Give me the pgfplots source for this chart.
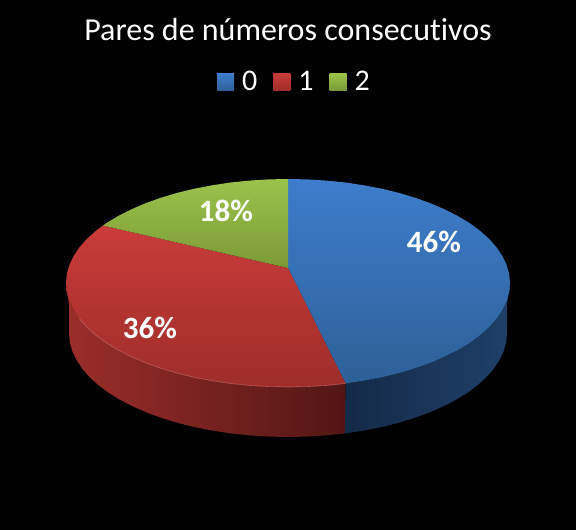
\documentclass[border=0pt]{standalone}
\usepackage{fontspec}
\setmainfont[Ligatures=NoCommon]{Carlito}
\usepackage{pgfplots}
\pgfplotsset{compat=1.18}

% top face colours
\definecolor{blueTop}{HTML}{3D7DCB}
\definecolor{blueBot}{HTML}{2E6097}
\definecolor{redTop}{HTML}{C93C3A}
\definecolor{redBot}{HTML}{9E2D2A}
\definecolor{greenTop}{HTML}{9DC24A}
\definecolor{greenBot}{HTML}{7A9A38}
% side wall colours
\definecolor{redSideL}{HTML}{9B2E2B}
\definecolor{redSideM}{HTML}{681E1B}
\definecolor{redSideR}{HTML}{521614}
\definecolor{blueSideL}{HTML}{142A48}
\definecolor{blueSideR}{HTML}{1F4069}

\begin{document}
\begin{tikzpicture}
\begin{axis}[
    scale only axis,
    width=576pt,
    height=530pt,
    xmin=0, xmax=576,
    ymin=0, ymax=530,
    y dir=reverse,
    hide axis,
    title={Pares de números consecutivos},
    title style={at={(0.5,1)}, anchor=center, yshift=-36pt, text=white, font=\fontsize{32}{35}\selectfont},
    legend columns=3,
    legend style={at={(axis cs:294.5,82)}, anchor=center, draw=none, fill=none, text=white,
        font=\fontsize{30}{32}\selectfont,
        /tikz/every even column/.append style={column sep=14pt}},
    legend image code/.code={\path[#1] (0pt,-8.5pt) rectangle (17pt,8.5pt); \path (23pt,0pt);},
]
% background
\addplot[forget plot, draw=none, fill=black] coordinates {(0,0) (576,0) (576,530) (0,530)} --cycle;

% side wall, blue part
\addplot[forget plot, draw=none, left color=blueSideL, right color=blueSideR] coordinates {
    (345.5,383.5) (363.9,380.7) (381.8,377.3) (399,373.1) (415.3,368.2) (430.7,362.7) (445,356.5) (458,349.9) (469.9,342.7) (480.3,335) (489.2,327) (496.6,318.6) (502.4,309.9) (506.6,301.1) (509.2,292.1) (510,283)
    (507,305) (507,333) (506.2,342.1) (503.7,351.1) (499.5,359.9) (493.8,368.6) (486.5,377) (477.7,385) (467.4,392.7) (455.8,399.9) (442.9,406.5) (428.8,412.7) (413.6,418.2) (397.5,423.1) (380.5,427.3) (362.9,430.7) (344.7,433.5)
} --cycle;
% side wall, red part
\addplot[forget plot, draw=none, left color=redSideL, middle color=redSideM, right color=redSideR] coordinates {
    (345.5,383.5) (326.6,385.4) (307.4,386.6) (288,387) (268.6,386.6) (249.4,385.4) (230.5,383.5) (212.1,380.7) (194.2,377.3) (177,373.1) (160.7,368.2) (145.3,362.7) (131,356.5) (118,349.9) (106.1,342.7) (95.7,335) (86.8,327) (79.4,318.6) (73.6,309.9) (69.4,301.1) (66.8,292.1) (66,283)
    (69,305) (69,333) (69.8,342.1) (72.3,351.1) (76.5,359.9) (82.2,368.6) (89.5,377) (98.3,385) (108.6,392.7) (120.2,399.9) (133.1,406.5) (147.2,412.7) (162.4,418.2) (178.5,423.1) (195.5,427.3) (213.1,430.7) (231.3,433.5) (250,435.4) (268.9,436.6) (288,437) (307.1,436.6) (326,435.4) (344.7,433.5)
} --cycle;

% top face: 46 %
\addplot[draw=none, top color=blueTop, bottom color=blueBot] coordinates {
    (288,268) (288,179) (307.4,179.4) (326.6,180.6) (345.5,182.5) (363.9,185.3) (381.8,188.7) (399,192.9) (415.3,197.8) (430.7,203.3) (445,209.5) (458,216.1) (469.9,223.3) (480.3,231) (489.2,239) (496.6,247.4) (502.4,256.1) (506.6,264.9) (509.2,273.9)
    (510,283) (509.2,292.1) (506.6,301.1) (502.4,309.9) (496.6,318.6) (489.2,327) (480.3,335) (469.9,342.7) (458,349.9) (445,356.5) (430.7,362.7) (415.3,368.2) (399,373.1) (381.8,377.3) (363.9,380.7) (345.5,383.5)
} --cycle;
\addlegendentry{0}
% top face: 36 %
\addplot[draw=none, top color=redTop, bottom color=redBot] coordinates {
    (288,268) (345.5,383.5) (326.6,385.4) (307.4,386.6) (288,387) (268.6,386.6) (249.4,385.4) (230.5,383.5) (212.1,380.7) (194.2,377.3) (177,373.1) (160.7,368.2) (145.3,362.7) (131,356.5) (118,349.9) (106.1,342.7) (95.7,335) (86.8,327) (79.4,318.6) (73.6,309.9) (69.4,301.1) (66.8,292.1)
    (66,283) (66.8,273.9) (69.4,264.9) (73.6,256.1) (79.4,247.4) (86.8,239) (95.7,231) (103,225.5)
} --cycle;
\addlegendentry{1}
% top face: 18 %
\addplot[draw=none, top color=greenTop, bottom color=greenBot] coordinates {
    (288,268) (103,225.5) (106.1,223.3) (118,216.1) (131,209.5) (145.3,203.3) (160.7,197.8) (177,192.9) (194.2,188.7) (212.1,185.3) (230.5,182.5) (249.4,180.6) (268.6,179.4) (288,179)
} --cycle;
\addlegendentry{2}

% light rim along the front edge
\addplot[forget plot, draw=redTop!70!white, opacity=0.6, line width=0.7pt] coordinates {
    (345.5,383.5) (326.6,385.4) (307.4,386.6) (288,387) (268.6,386.6) (249.4,385.4) (230.5,383.5) (212.1,380.7) (194.2,377.3) (177,373.1) (160.7,368.2) (145.3,362.7) (131,356.5) (118,349.9) (106.1,342.7) (95.7,335) (86.8,327) (79.4,318.6)
};

\node[text=white, font=\fontsize{31}{34}\selectfont\bfseries] at (axis cs:434,242) {46\%};
\node[text=white, font=\fontsize{31}{34}\selectfont\bfseries] at (axis cs:150,328) {36\%};
\node[text=white, font=\fontsize{31}{34}\selectfont\bfseries] at (axis cs:226,211) {18\%};
\end{axis}
\end{tikzpicture}
\end{document}
